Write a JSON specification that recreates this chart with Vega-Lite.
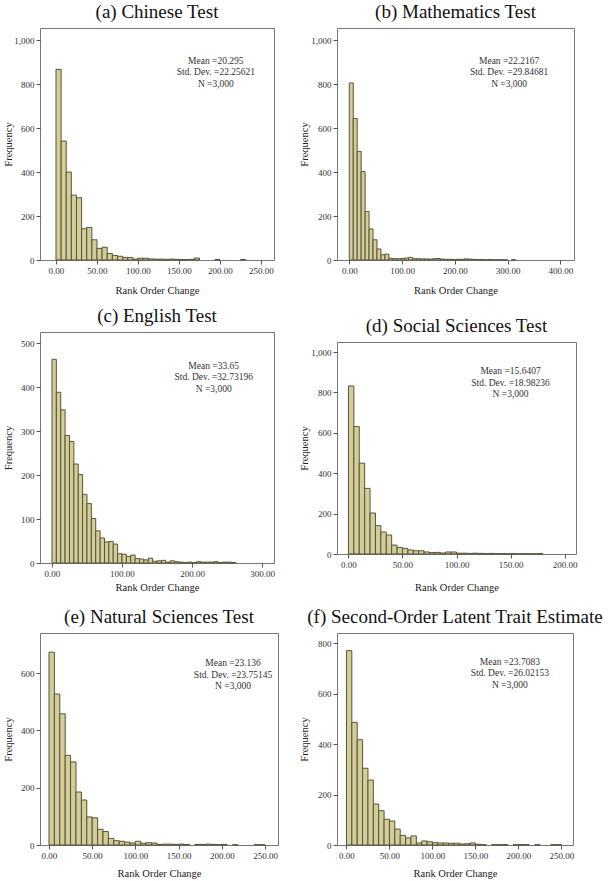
{
  "$schema": "https://vega.github.io/schema/vega-lite/v6.json",
  "padding": {"left": 2, "top": 2, "right": 2, "bottom": 2},
  "background": "white",
  "config": {
    "font": "Liberation Serif",
    "view": {"stroke": "#777777", "strokeWidth": 1},
    "axis": {"domain": false, "grid": false, "tickColor": "#555555", "tickSize": 4, "labelPadding": 2, "labelFont": "Liberation Serif", "labelFontSize": 9, "labelColor": "#333333", "titleFont": "Liberation Serif", "titleFontSize": 10.5, "titleFontWeight": "normal", "titleColor": "#222222", "labelFlush": false, "labelOverlap": false},
    "title": {"font": "Liberation Serif", "fontSize": 19, "fontWeight": "normal", "offset": 6, "color": "#111111", "anchor": "middle"},
    "bar": {"fill": "#d3ce97", "stroke": "#57533d", "strokeWidth": 1},
    "text": {"font": "Liberation Serif"}
  },
  "datasets": {
    "a": [
      {"x0": 0, "x1": 6.25, "count": 867}, {"x0": 6.25, "x1": 12.5, "count": 541}, {"x0": 12.5, "x1": 18.75, "count": 400}, {"x0": 18.75, "x1": 25, "count": 295}, {"x0": 25, "x1": 31.25, "count": 283}, {"x0": 31.25, "x1": 37.5, "count": 142}, {"x0": 37.5, "x1": 43.75, "count": 148}, {"x0": 43.75, "x1": 50, "count": 92}, {"x0": 50, "x1": 56.25, "count": 53}, {"x0": 56.25, "x1": 62.5, "count": 58}, {"x0": 62.5, "x1": 68.75, "count": 30}, {"x0": 68.75, "x1": 75, "count": 21}, {"x0": 75, "x1": 81.25, "count": 17}, {"x0": 81.25, "x1": 87.5, "count": 12}, {"x0": 87.5, "x1": 93.75, "count": 11}, {"x0": 93.75, "x1": 100, "count": 4}, {"x0": 100, "x1": 106.25, "count": 8}, {"x0": 106.25, "x1": 112.5, "count": 8}, {"x0": 112.5, "x1": 118.75, "count": 5}, {"x0": 118.75, "x1": 125, "count": 4}, {"x0": 125, "x1": 131.25, "count": 4}, {"x0": 131.25, "x1": 137.5, "count": 3}, {"x0": 137.5, "x1": 143.75, "count": 4}, {"x0": 143.75, "x1": 150, "count": 3}, {"x0": 150, "x1": 156.25, "count": 2}, {"x0": 156.25, "x1": 162.5, "count": 2}, {"x0": 162.5, "x1": 168.75, "count": 3}, {"x0": 168.75, "x1": 175, "count": 9}, {"x0": 193.75, "x1": 200, "count": 2}, {"x0": 225, "x1": 231.25, "count": 2}
    ],
    "b": [
      {"x0": 0, "x1": 7.5, "count": 805}, {"x0": 7.5, "x1": 15, "count": 644}, {"x0": 15, "x1": 22.5, "count": 494}, {"x0": 22.5, "x1": 30, "count": 402}, {"x0": 30, "x1": 37.5, "count": 221}, {"x0": 37.5, "x1": 45, "count": 141}, {"x0": 45, "x1": 52.5, "count": 92}, {"x0": 52.5, "x1": 60, "count": 50}, {"x0": 60, "x1": 67.5, "count": 24}, {"x0": 67.5, "x1": 75, "count": 27}, {"x0": 75, "x1": 82.5, "count": 8}, {"x0": 82.5, "x1": 90, "count": 6}, {"x0": 90, "x1": 97.5, "count": 6}, {"x0": 97.5, "x1": 105, "count": 7}, {"x0": 105, "x1": 112.5, "count": 9}, {"x0": 112.5, "x1": 120, "count": 12}, {"x0": 120, "x1": 127.5, "count": 6}, {"x0": 127.5, "x1": 135, "count": 6}, {"x0": 135, "x1": 142.5, "count": 5}, {"x0": 142.5, "x1": 150, "count": 5}, {"x0": 150, "x1": 157.5, "count": 4}, {"x0": 157.5, "x1": 165, "count": 6}, {"x0": 165, "x1": 172.5, "count": 7}, {"x0": 172.5, "x1": 180, "count": 4}, {"x0": 180, "x1": 187.5, "count": 3}, {"x0": 187.5, "x1": 195, "count": 3}, {"x0": 195, "x1": 202.5, "count": 2}, {"x0": 202.5, "x1": 210, "count": 3}, {"x0": 210, "x1": 217.5, "count": 3}, {"x0": 217.5, "x1": 225, "count": 5}, {"x0": 225, "x1": 232.5, "count": 4}, {"x0": 232.5, "x1": 240, "count": 3}, {"x0": 240, "x1": 247.5, "count": 2}, {"x0": 247.5, "x1": 255, "count": 2}, {"x0": 255, "x1": 262.5, "count": 1}, {"x0": 262.5, "x1": 270, "count": 2}, {"x0": 270, "x1": 277.5, "count": 1}, {"x0": 277.5, "x1": 285, "count": 1}, {"x0": 285, "x1": 292.5, "count": 1}, {"x0": 292.5, "x1": 300, "count": 1}, {"x0": 307.5, "x1": 315, "count": 1}
    ],
    "c": [
      {"x0": 0, "x1": 6.25, "count": 463}, {"x0": 6.25, "x1": 12.5, "count": 388}, {"x0": 12.5, "x1": 18.75, "count": 348}, {"x0": 18.75, "x1": 25, "count": 290}, {"x0": 25, "x1": 31.25, "count": 276}, {"x0": 31.25, "x1": 37.5, "count": 225}, {"x0": 37.5, "x1": 43.75, "count": 201}, {"x0": 43.75, "x1": 50, "count": 156}, {"x0": 50, "x1": 56.25, "count": 135}, {"x0": 56.25, "x1": 62.5, "count": 101}, {"x0": 62.5, "x1": 68.75, "count": 73}, {"x0": 68.75, "x1": 75, "count": 57}, {"x0": 75, "x1": 81.25, "count": 48}, {"x0": 81.25, "x1": 87.5, "count": 49}, {"x0": 87.5, "x1": 93.75, "count": 43}, {"x0": 93.75, "x1": 100, "count": 21}, {"x0": 100, "x1": 106.25, "count": 20}, {"x0": 106.25, "x1": 112.5, "count": 15}, {"x0": 112.5, "x1": 118.75, "count": 18}, {"x0": 118.75, "x1": 125, "count": 10}, {"x0": 125, "x1": 131.25, "count": 9}, {"x0": 131.25, "x1": 137.5, "count": 7}, {"x0": 137.5, "x1": 143.75, "count": 11}, {"x0": 143.75, "x1": 150, "count": 4}, {"x0": 150, "x1": 156.25, "count": 5}, {"x0": 156.25, "x1": 162.5, "count": 6}, {"x0": 162.5, "x1": 168.75, "count": 2}, {"x0": 168.75, "x1": 175, "count": 5}, {"x0": 175, "x1": 181.25, "count": 3}, {"x0": 181.25, "x1": 187.5, "count": 2}, {"x0": 187.5, "x1": 193.75, "count": 1}, {"x0": 193.75, "x1": 200, "count": 2}, {"x0": 200, "x1": 206.25, "count": 1}, {"x0": 206.25, "x1": 212.5, "count": 3}, {"x0": 212.5, "x1": 218.75, "count": 2}, {"x0": 218.75, "x1": 225, "count": 2}, {"x0": 225, "x1": 231.25, "count": 2}, {"x0": 231.25, "x1": 237.5, "count": 3}, {"x0": 237.5, "x1": 243.75, "count": 1}, {"x0": 243.75, "x1": 250, "count": 2}, {"x0": 250, "x1": 256.25, "count": 2}, {"x0": 256.25, "x1": 262.5, "count": 1}
    ],
    "d": [
      {"x0": 0, "x1": 5, "count": 832}, {"x0": 5, "x1": 10, "count": 631}, {"x0": 10, "x1": 15, "count": 450}, {"x0": 15, "x1": 20, "count": 325}, {"x0": 20, "x1": 25, "count": 203}, {"x0": 25, "x1": 30, "count": 140}, {"x0": 30, "x1": 35, "count": 109}, {"x0": 35, "x1": 40, "count": 94}, {"x0": 40, "x1": 45, "count": 44}, {"x0": 45, "x1": 50, "count": 33}, {"x0": 50, "x1": 55, "count": 28}, {"x0": 55, "x1": 60, "count": 20}, {"x0": 60, "x1": 65, "count": 16}, {"x0": 65, "x1": 70, "count": 16}, {"x0": 70, "x1": 75, "count": 10}, {"x0": 75, "x1": 80, "count": 7}, {"x0": 80, "x1": 85, "count": 8}, {"x0": 85, "x1": 90, "count": 5}, {"x0": 90, "x1": 95, "count": 10}, {"x0": 95, "x1": 100, "count": 10}, {"x0": 100, "x1": 105, "count": 4}, {"x0": 105, "x1": 110, "count": 4}, {"x0": 110, "x1": 115, "count": 3}, {"x0": 115, "x1": 120, "count": 4}, {"x0": 120, "x1": 125, "count": 3}, {"x0": 125, "x1": 130, "count": 2}, {"x0": 130, "x1": 135, "count": 3}, {"x0": 135, "x1": 140, "count": 2}, {"x0": 140, "x1": 145, "count": 2}, {"x0": 145, "x1": 150, "count": 1}, {"x0": 150, "x1": 155, "count": 2}, {"x0": 155, "x1": 160, "count": 1}, {"x0": 160, "x1": 165, "count": 2}, {"x0": 165, "x1": 170, "count": 1}, {"x0": 170, "x1": 175, "count": 1}, {"x0": 175, "x1": 180, "count": 2}
    ],
    "e": [
      {"x0": 0, "x1": 6.25, "count": 673}, {"x0": 6.25, "x1": 12.5, "count": 527}, {"x0": 12.5, "x1": 18.75, "count": 458}, {"x0": 18.75, "x1": 25, "count": 313}, {"x0": 25, "x1": 31.25, "count": 290}, {"x0": 31.25, "x1": 37.5, "count": 185}, {"x0": 37.5, "x1": 43.75, "count": 157}, {"x0": 43.75, "x1": 50, "count": 98}, {"x0": 50, "x1": 56.25, "count": 95}, {"x0": 56.25, "x1": 62.5, "count": 55}, {"x0": 62.5, "x1": 68.75, "count": 47}, {"x0": 68.75, "x1": 75, "count": 23}, {"x0": 75, "x1": 81.25, "count": 15}, {"x0": 81.25, "x1": 87.5, "count": 13}, {"x0": 87.5, "x1": 93.75, "count": 10}, {"x0": 93.75, "x1": 100, "count": 7}, {"x0": 100, "x1": 106.25, "count": 13}, {"x0": 106.25, "x1": 112.5, "count": 6}, {"x0": 112.5, "x1": 118.75, "count": 8}, {"x0": 118.75, "x1": 125, "count": 7}, {"x0": 125, "x1": 131.25, "count": 2}, {"x0": 131.25, "x1": 137.5, "count": 3}, {"x0": 137.5, "x1": 143.75, "count": 3}, {"x0": 143.75, "x1": 150, "count": 2}, {"x0": 150, "x1": 156.25, "count": 3}, {"x0": 156.25, "x1": 162.5, "count": 2}, {"x0": 168.75, "x1": 175, "count": 2}, {"x0": 175, "x1": 181.25, "count": 2}, {"x0": 181.25, "x1": 187.5, "count": 3}, {"x0": 187.5, "x1": 193.75, "count": 2}, {"x0": 193.75, "x1": 200, "count": 1}, {"x0": 200, "x1": 206.25, "count": 2}, {"x0": 212.5, "x1": 218.75, "count": 1}, {"x0": 237.5, "x1": 243.75, "count": 1}, {"x0": 243.75, "x1": 250, "count": 1}
    ],
    "f": [
      {"x0": 0, "x1": 6.25, "count": 770}, {"x0": 6.25, "x1": 12.5, "count": 486}, {"x0": 12.5, "x1": 18.75, "count": 417}, {"x0": 18.75, "x1": 25, "count": 304}, {"x0": 25, "x1": 31.25, "count": 257}, {"x0": 31.25, "x1": 37.5, "count": 162}, {"x0": 37.5, "x1": 43.75, "count": 136}, {"x0": 43.75, "x1": 50, "count": 102}, {"x0": 50, "x1": 56.25, "count": 95}, {"x0": 56.25, "x1": 62.5, "count": 63}, {"x0": 62.5, "x1": 68.75, "count": 38}, {"x0": 68.75, "x1": 75, "count": 28}, {"x0": 75, "x1": 81.25, "count": 36}, {"x0": 81.25, "x1": 87.5, "count": 8}, {"x0": 87.5, "x1": 93.75, "count": 16}, {"x0": 93.75, "x1": 100, "count": 13}, {"x0": 100, "x1": 106.25, "count": 9}, {"x0": 106.25, "x1": 112.5, "count": 8}, {"x0": 112.5, "x1": 118.75, "count": 8}, {"x0": 118.75, "x1": 125, "count": 7}, {"x0": 125, "x1": 131.25, "count": 7}, {"x0": 131.25, "x1": 137.5, "count": 4}, {"x0": 137.5, "x1": 143.75, "count": 5}, {"x0": 143.75, "x1": 150, "count": 8}, {"x0": 150, "x1": 156.25, "count": 3}, {"x0": 156.25, "x1": 162.5, "count": 1}, {"x0": 168.75, "x1": 175, "count": 1}, {"x0": 175, "x1": 181.25, "count": 1}, {"x0": 181.25, "x1": 187.5, "count": 2}, {"x0": 193.75, "x1": 200, "count": 1}, {"x0": 200, "x1": 206.25, "count": 2}, {"x0": 206.25, "x1": 212.5, "count": 1}, {"x0": 218.75, "x1": 225, "count": 1}, {"x0": 237.5, "x1": 243.75, "count": 1}, {"x0": 243.75, "x1": 250, "count": 1}
    ],
    "stats": [
      {"panel": "a", "label": "Mean =20.295\nStd. Dev. =22.25621\nN =3,000"},
      {"panel": "b", "label": "Mean =22.2167\nStd. Dev. =29.84681\nN =3,000"},
      {"panel": "c", "label": "Mean =33.65\nStd. Dev. =32.73196\nN =3,000"},
      {"panel": "d", "label": "Mean =15.6407\nStd. Dev. =18.98236\nN =3,000"},
      {"panel": "e", "label": "Mean =23.136\nStd. Dev. =23.75145\nN =3,000"},
      {"panel": "f", "label": "Mean =23.7083\nStd. Dev. =26.02153\nN =3,000"}
    ]
  },
  "hconcat": [
    {
      "spacing": 9,
      "vconcat": [
        {
          "width": 234, "height": 232,
          "title": {"text": "(a) Chinese Test"},
          "layer": [
            {"data": {"name": "a"}, "mark": {"type": "bar"},
             "encoding": {
               "x": {"field": "x0", "type": "quantitative", "title": "Rank Order Change", "scale": {"domain": [-19.5, 265.9], "nice": false, "zero": false}, "axis": {"values": [0, 50, 100, 150, 200, 250], "format": ".2f", "titlePadding": 10.75}},
               "x2": {"field": "x1"},
               "y": {"field": "count", "type": "quantitative", "stack": null, "title": "Frequency", "scale": {"domain": [0, 1055], "nice": false}, "axis": {"values": [0, 200, 400, 600, 800, 1000], "format": ",.0f", "minExtent": 24, "maxExtent": 24, "titlePadding": 3}},
               "y2": {"datum": 0}
             }},
            {"data": {"name": "stats"}, "transform": [{"filter": "datum.panel == 'a'"}],
             "mark": {"type": "text", "lineBreak": "\n", "fontSize": 9.5, "lineHeight": 11.5, "baseline": "middle", "align": "center", "color": "#333333"},
             "encoding": {"text": {"field": "label"}, "x": {"datum": 195}, "y": {"datum": 907}}}
          ]
        },
        {
          "spacing": 13,
          "vconcat": [
            {
              "width": 234, "height": 231,
              "title": {"text": "(c) English Test"},
              "layer": [
                {"data": {"name": "c"}, "mark": {"type": "bar"},
                 "encoding": {
                   "x": {"field": "x0", "type": "quantitative", "title": "Rank Order Change", "scale": {"domain": [-17.1, 317.1], "nice": false, "zero": false}, "axis": {"values": [0, 50, 100, 150, 200, 250, 300], "format": ".2f", "titlePadding": 4.75}},
                   "x2": {"field": "x1"},
                   "y": {"field": "count", "type": "quantitative", "stack": null, "title": "Frequency", "scale": {"domain": [0, 525], "nice": false}, "axis": {"values": [0, 100, 200, 300, 400, 500], "format": ",.0f", "minExtent": 24, "maxExtent": 24, "titlePadding": 3}},
                   "y2": {"datum": 0}
                 }},
                {"data": {"name": "stats"}, "transform": [{"filter": "datum.panel == 'c'"}],
                 "mark": {"type": "text", "lineBreak": "\n", "fontSize": 9.5, "lineHeight": 11.5, "baseline": "middle", "align": "center", "color": "#333333"},
                 "encoding": {"text": {"field": "label"}, "x": {"datum": 231}, "y": {"datum": 448}}}
              ]
            },
            {
              "width": 238, "height": 212,
              "title": {"text": "(e) Natural Sciences Test"},
              "layer": [
                {"data": {"name": "e"}, "mark": {"type": "bar"},
                 "encoding": {
                   "x": {"field": "x0", "type": "quantitative", "title": "Rank Order Change", "scale": {"domain": [-10.4, 265], "nice": false, "zero": false}, "axis": {"values": [0, 50, 100, 150, 200, 250], "format": ".2f", "titlePadding": 8.75}},
                   "x2": {"field": "x1"},
                   "y": {"field": "count", "type": "quantitative", "stack": null, "title": "Frequency", "scale": {"domain": [0, 740], "nice": false}, "axis": {"values": [0, 200, 400, 600], "format": ",.0f", "minExtent": 24, "maxExtent": 24, "titlePadding": 3}},
                   "y2": {"datum": 0}
                 }},
                {"data": {"name": "stats"}, "transform": [{"filter": "datum.panel == 'e'"}],
                 "mark": {"type": "text", "lineBreak": "\n", "fontSize": 9.5, "lineHeight": 11.5, "baseline": "middle", "align": "center", "color": "#333333"},
                 "encoding": {"text": {"field": "label"}, "x": {"datum": 213}, "y": {"datum": 634}}}
              ]
            }
          ]
        }
      ]
    },
    {
      "spacing": 19,
      "vconcat": [
        {
          "width": 237, "height": 232,
          "title": {"text": "(b) Mathematics Test"},
          "layer": [
            {"data": {"name": "b"}, "mark": {"type": "bar"},
             "encoding": {
               "x": {"field": "x0", "type": "quantitative", "title": "Rank Order Change", "scale": {"domain": [-23.3, 426], "nice": false, "zero": false}, "axis": {"values": [0, 100, 200, 300, 400], "format": ".2f", "titlePadding": 10.75}},
               "x2": {"field": "x1"},
               "y": {"field": "count", "type": "quantitative", "stack": null, "title": "Frequency", "scale": {"domain": [0, 1055], "nice": false}, "axis": {"values": [0, 200, 400, 600, 800, 1000], "format": ",.0f", "minExtent": 24, "maxExtent": 24, "titlePadding": 4}},
               "y2": {"datum": 0}
             }},
            {"data": {"name": "stats"}, "transform": [{"filter": "datum.panel == 'b'"}],
             "mark": {"type": "text", "lineBreak": "\n", "fontSize": 9.5, "lineHeight": 11.5, "baseline": "middle", "align": "center", "color": "#333333"},
             "encoding": {"text": {"field": "label"}, "x": {"datum": 303}, "y": {"datum": 907}}}
          ]
        },
        {
          "spacing": 13,
          "vconcat": [
            {
              "width": 239, "height": 212,
              "title": {"text": "(d) Social Sciences Test"},
              "layer": [
                {"data": {"name": "d"}, "mark": {"type": "bar"},
                 "encoding": {
                   "x": {"field": "x0", "type": "quantitative", "title": "Rank Order Change", "scale": {"domain": [-10.6, 210.6], "nice": false, "zero": false}, "axis": {"values": [0, 50, 100, 150, 200], "format": ".2f", "titlePadding": 13.75}},
                   "x2": {"field": "x1"},
                   "y": {"field": "count", "type": "quantitative", "stack": null, "title": "Frequency", "scale": {"domain": [0, 1050], "nice": false}, "axis": {"values": [0, 200, 400, 600, 800, 1000], "format": ",.0f", "minExtent": 24, "maxExtent": 24, "titlePadding": 4}},
                   "y2": {"datum": 0}
                 }},
                {"data": {"name": "stats"}, "transform": [{"filter": "datum.panel == 'd'"}],
                 "mark": {"type": "text", "lineBreak": "\n", "fontSize": 9.5, "lineHeight": 11.5, "baseline": "middle", "align": "center", "color": "#333333"},
                 "encoding": {"text": {"field": "label"}, "x": {"datum": 150}, "y": {"datum": 904}}}
              ]
            },
            {
              "width": 236, "height": 212,
              "title": {"text": "(f) Second-Order Latent Trait Estimate"},
              "layer": [
                {"data": {"name": "f"}, "mark": {"type": "bar"},
                 "encoding": {
                   "x": {"field": "x0", "type": "quantitative", "title": "Rank Order Change", "scale": {"domain": [-11, 263.4], "nice": false, "zero": false}, "axis": {"values": [0, 50, 100, 150, 200, 250], "format": ".2f", "titlePadding": 8.75}},
                   "x2": {"field": "x1"},
                   "y": {"field": "count", "type": "quantitative", "stack": null, "title": "Frequency", "scale": {"domain": [0, 840], "nice": false}, "axis": {"values": [0, 200, 400, 600, 800], "format": ",.0f", "minExtent": 24, "maxExtent": 24, "titlePadding": 4}},
                   "y2": {"datum": 0}
                 }},
                {"data": {"name": "stats"}, "transform": [{"filter": "datum.panel == 'f'"}],
                 "mark": {"type": "text", "lineBreak": "\n", "fontSize": 9.5, "lineHeight": 11.5, "baseline": "middle", "align": "center", "color": "#333333"},
                 "encoding": {"text": {"field": "label"}, "x": {"datum": 190}, "y": {"datum": 727}}}
              ]
            }
          ]
        }
      ]
    }
  ],
  "spacing": 19
}
